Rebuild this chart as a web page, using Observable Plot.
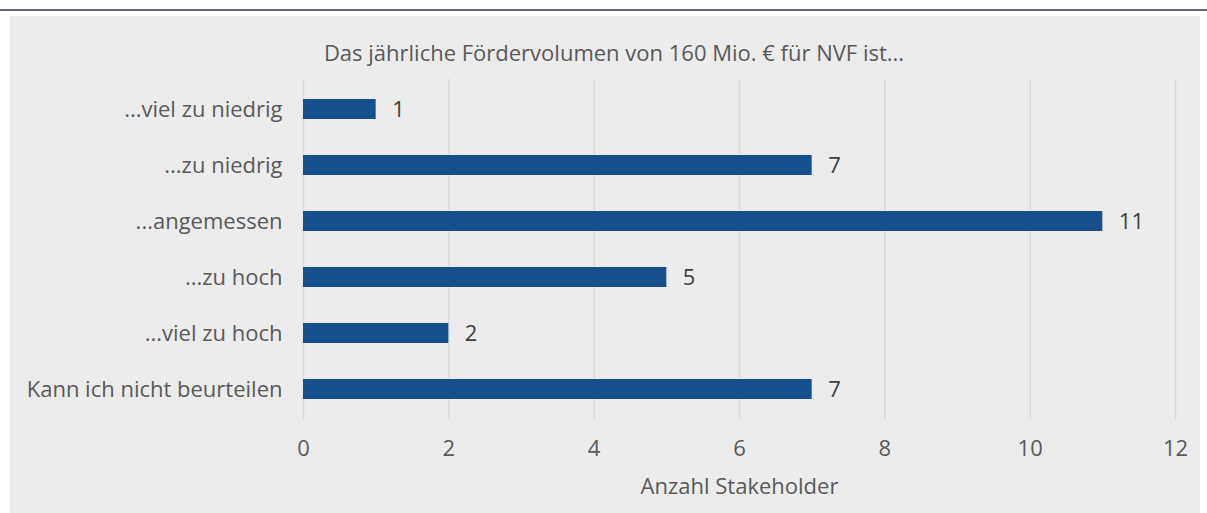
<!DOCTYPE html>
<html><head><meta charset="utf-8">
<script src="https://cdn.jsdelivr.net/npm/d3@7"></script>
<script src="https://cdn.jsdelivr.net/npm/@observablehq/plot@0.6"></script>
<style>
html,body{margin:0;padding:0;background:#fff;width:1207px;height:513px;overflow:hidden;font-family:"Open Sans",sans-serif;}
#topline{position:absolute;left:0;top:9px;width:1207px;height:2px;background:#646b73;}
#panel{position:absolute;left:10px;top:16px;width:1190px;height:497px;background:#ececec;}
#title{position:absolute;left:0;width:1228px;top:37px;text-align:center;font-size:22px;line-height:30px;color:#595959;}
#chart{position:absolute;left:0;top:0;}
</style></head><body>
<div id="topline"></div><div id="panel"></div>
<div id="title">Das jährliche Fördervolumen von 160 Mio. € für NVF ist...</div>
<div id="chart"></div>
<script>
const categories = ["...viel zu niedrig","...zu niedrig","...angemessen","...zu hoch","...viel zu hoch","Kann ich nicht beurteilen"];
const values = [1,7,11,5,2,7];
const xTicks = [0,2,4,6,8,10,12];
const axisTitle = ["Anzahl Stakeholder"];
const data = categories.map((c,i)=>({category:c,value:values[i]}));
const plot = Plot.plot({
  width:1207, height:513,
  marginLeft:303, marginRight:32, marginTop:79, marginBottom:94,
  style:{background:"transparent", fontFamily:"'Open Sans', sans-serif", fontSize:"22px", color:"#595959"},
  x:{domain:[0,12], ticks:xTicks},
  y:{domain:categories, paddingInner:0.65, paddingOuter:0.325},
  marks:[
    Plot.ruleX(xTicks,{stroke:"#d9d9d9", strokeWidth:1.5}),
    Plot.barX(data,{x:"value", y:"category", fill:"#174f8c"}),
    Plot.text(data,{x:"value", y:"category", text:d=>String(d.value), dx:16, textAnchor:"start", fill:"#404040", fontSize:22}),
    Plot.axisX({ticks:xTicks, tickSize:0, tickPadding:21, label:null, fill:"#595959", fontSize:22}),
    Plot.axisY({tickSize:0, tickPadding:21, label:null, fill:"#595959", fontSize:22}),
    Plot.text(axisTitle,{text:d=>d, frameAnchor:"bottom", dy:74, fill:"#595959", fontSize:22})
  ]
});
document.getElementById("chart").appendChild(plot);
</script></body></html>
